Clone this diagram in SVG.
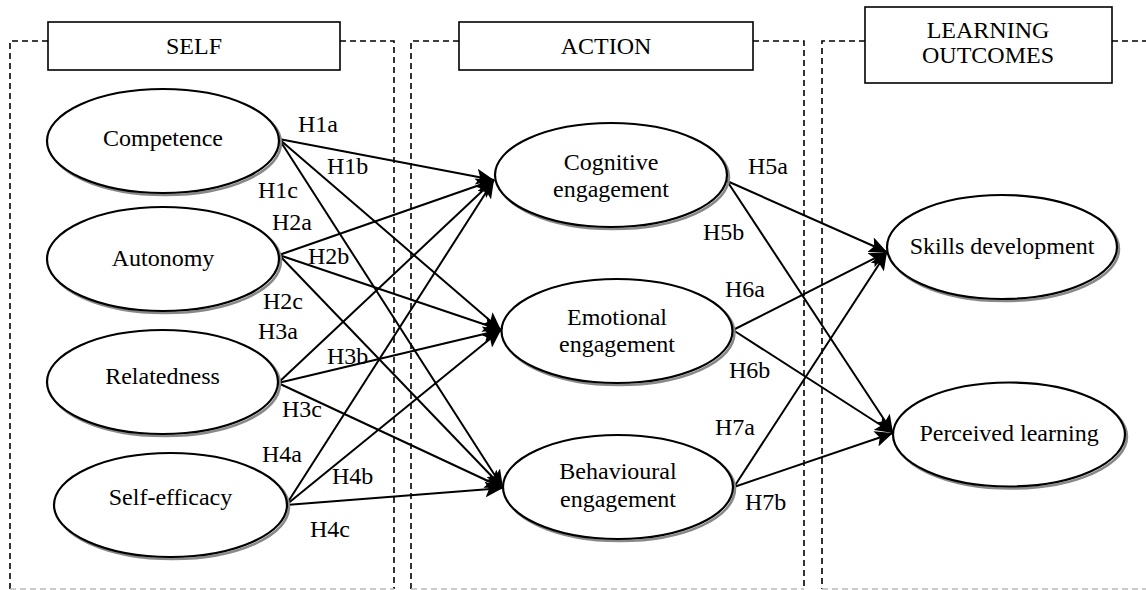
<svg xmlns="http://www.w3.org/2000/svg" width="1146" height="590" viewBox="0 0 1146 590" font-family="'Liberation Serif', 'Times New Roman', 'DejaVu Serif', serif">
<style>
text{font-family:'Liberation Serif','Times New Roman','DejaVu Serif',serif;font-size:24px;fill:#000}
.c{text-anchor:middle}
.dash{fill:none;stroke:#000;stroke-width:1.6;stroke-dasharray:6 4}
.dashb{fill:none;stroke:#bbb;stroke-width:1.4;stroke-dasharray:6 4}
.box{fill:#fff;stroke:#000;stroke-width:1.6}
.sh{fill:none;stroke:#888;stroke-width:2.5}
.el{fill:#fff;stroke:#000;stroke-width:2.2}
.ln{stroke:#000;stroke-width:2;fill:none;marker-end:url(#ah)}
</style>
<defs>
<marker id="ah" markerUnits="userSpaceOnUse" markerWidth="20" markerHeight="16" refX="18" refY="8" orient="auto">
<path d="M0,0 L18,8 L0,16 L4,8 z" fill="#000"/>
</marker>
</defs>
<rect width="1146" height="590" fill="#fff"/>
<g id="panels">
<path class="dash" d="M48,41 H10 V589 M340,41 H394 V589"/>
<path class="dash" d="M459,41 H411 V589 M753,41 H804 V589"/>
<path class="dash" d="M865,41 H822 V589 M1112,41 H1146"/>
<path class="dashb" d="M10,589 H394 M411,589 H804 M822,589 H1146"/>
</g>
<g id="title-self"><rect class="box" x="48" y="22" width="292" height="48"/><text class="c" x="194" y="54">SELF</text></g>
<g id="title-action"><rect class="box" x="459" y="22" width="294" height="48"/><text class="c" x="606" y="54">ACTION</text></g>
<g id="title-outcomes"><rect class="box" x="865" y="7" width="247" height="76"/><text class="c" x="988" y="38">LEARNING</text><text class="c" x="988" y="63">OUTCOMES</text></g>
<g id="connectors">
<line class="ln" x1="279" y1="139" x2="494" y2="180"/>
<line class="ln" x1="279" y1="139" x2="501" y2="330"/>
<line class="ln" x1="279" y1="139" x2="503" y2="488"/>
<line class="ln" x1="279" y1="255" x2="494" y2="180"/>
<line class="ln" x1="279" y1="255" x2="501" y2="330"/>
<line class="ln" x1="279" y1="255" x2="503" y2="488"/>
<line class="ln" x1="278" y1="383" x2="494" y2="180"/>
<line class="ln" x1="278" y1="383" x2="501" y2="330"/>
<line class="ln" x1="278" y1="383" x2="503" y2="488"/>
<line class="ln" x1="286" y1="505" x2="494" y2="180"/>
<line class="ln" x1="286" y1="505" x2="501" y2="330"/>
<line class="ln" x1="286" y1="505" x2="503" y2="488"/>
<line class="ln" x1="727" y1="181" x2="887" y2="252"/>
<line class="ln" x1="727" y1="181" x2="893" y2="433"/>
<line class="ln" x1="733" y1="330" x2="887" y2="252"/>
<line class="ln" x1="733" y1="330" x2="893" y2="433"/>
<line class="ln" x1="734" y1="487" x2="887" y2="252"/>
<line class="ln" x1="734" y1="487" x2="893" y2="433"/>
</g>
<g id="labels">
<text x="298" y="132">H1a</text>
<text x="327" y="174">H1b</text>
<text x="258" y="198">H1c</text>
<text x="272" y="230">H2a</text>
<text x="308" y="264">H2b</text>
<text x="263" y="309">H2c</text>
<text x="258" y="339">H3a</text>
<text x="327" y="364">H3b</text>
<text x="282" y="417">H3c</text>
<text x="262" y="462">H4a</text>
<text x="332" y="484">H4b</text>
<text x="310" y="537">H4c</text>
<text x="748" y="174">H5a</text>
<text x="703" y="240">H5b</text>
<text x="725" y="297">H6a</text>
<text x="729" y="378">H6b</text>
<text x="715" y="435">H7a</text>
<text x="745" y="510">H7b</text>
</g>
<g id="competence"><ellipse class="sh" cx="165" cy="143" rx="116" ry="52"/><ellipse class="el" cx="163" cy="141" rx="116" ry="52"/><text class="c" x="163" y="146">Competence</text></g>
<g id="autonomy"><ellipse class="sh" cx="165" cy="261" rx="116" ry="52"/><ellipse class="el" cx="163" cy="259" rx="116" ry="52"/><text class="c" x="163" y="266">Autonomy</text></g>
<g id="relatedness"><ellipse class="sh" cx="164.5" cy="384" rx="115.5" ry="52"/><ellipse class="el" cx="162.5" cy="382" rx="115.5" ry="52"/><text class="c" x="162.5" y="384">Relatedness</text></g>
<g id="self-efficacy"><ellipse class="sh" cx="172.5" cy="507" rx="116.5" ry="52"/><ellipse class="el" cx="170.5" cy="505" rx="116.5" ry="52"/><text class="c" x="170.5" y="505">Self-efficacy</text></g>
<g id="cognitive"><ellipse class="sh" cx="613" cy="177" rx="116" ry="52"/><ellipse class="el" cx="611" cy="175" rx="116" ry="52"/><text class="c" x="611" y="170">Cognitive</text><text class="c" x="611" y="197">engagement</text></g>
<g id="emotional"><ellipse class="sh" cx="619" cy="333" rx="115.5" ry="52"/><ellipse class="el" cx="617" cy="331" rx="115.5" ry="52"/><text class="c" x="617" y="325">Emotional</text><text class="c" x="617" y="352">engagement</text></g>
<g id="behavioural"><ellipse class="sh" cx="620" cy="489" rx="115" ry="52"/><ellipse class="el" cx="618" cy="487" rx="115" ry="52"/><text class="c" x="618" y="479">Behavioural</text><text class="c" x="618" y="507">engagement</text></g>
<g id="skills"><ellipse class="sh" cx="1004" cy="249" rx="115" ry="52"/><ellipse class="el" cx="1002" cy="247" rx="115" ry="52"/><text class="c" x="1002" y="254">Skills development</text></g>
<g id="perceived"><ellipse class="sh" cx="1011" cy="436.5" rx="116" ry="52"/><ellipse class="el" cx="1009" cy="434.5" rx="116" ry="52"/><text class="c" x="1009" y="441">Perceived learning</text></g>
</svg>
